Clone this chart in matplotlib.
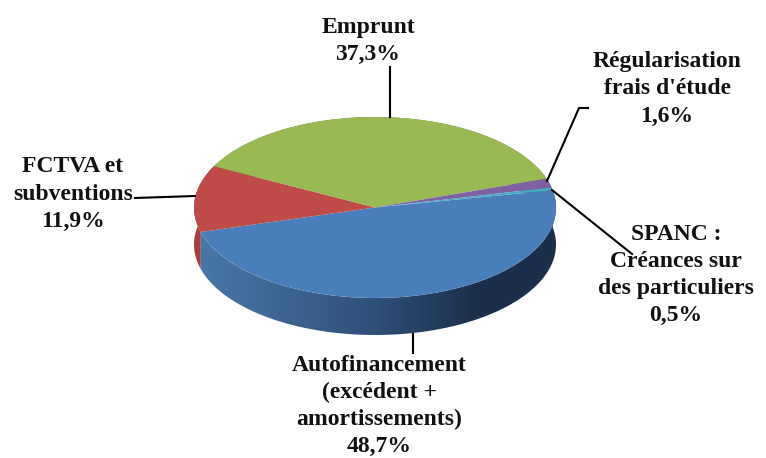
import numpy as np
import matplotlib
matplotlib.use("Agg")
import matplotlib.pyplot as plt
from matplotlib.patches import Polygon
from matplotlib.colors import LinearSegmentedColormap

# Data
labels = ["Autofinancement\n(excédent +\namortissements)\n48,7%",
          "FCTVA et\nsubventions\n11,9%",
          "Emprunt\n37,3%",
          "Régularisation\nfrais d'étude\n1,6%",
          "SPANC :\nCréances sur\ndes particuliers\n0,5%"]
values = [48.7, 11.9, 37.3, 1.6, 0.5]
colors = ["#4A7EBB", "#BE4B48", "#98B954", "#7F60A0", "#46AAC5"]
side_left = ["#4A78AA", "#A83F3C", "#7E9A45", "#66497F", "#35849A"]
side_mid = ["#2F5078", "#8E3330", "#6A8038", "#55406C", "#2C6C7E"]
side_right = ["#1B2F4A", "#7A2A28", "#5A6E30", "#45305A", "#245A68"]

W, H = 766, 458
# pie geometry in pixels
cx, cy, rx, ry, depth = 375, 207.5, 181, 90.5, 37

fig = plt.figure(figsize=(W/100, H/100), dpi=100)
ax = fig.add_axes([0, 0, 1, 1])
wedges, _ = ax.pie(values, colors=colors, startangle=11, counterclock=False,
                   wedgeprops={"linewidth": 0}, radius=1)
d = depth/ry

# side of the disc, blue goes last because it sits in front
xg = np.linspace(-1, 1, 256)[None, :]
for i in [2, 3, 4, 1, 0]:
    w = wedges[i]
    t = np.radians(np.linspace(w.theta1, w.theta2, 200))
    x = np.cos(t)
    y = np.sin(t)
    pts = np.r_[np.c_[x, y], np.c_[x[::-1], y[::-1]-d]]
    clip = Polygon(pts, transform=ax.transData, fc="none", ec="none")
    ax.add_patch(clip)
    cmap = LinearSegmentedColormap.from_list(
        "s", [(0, side_left[i]), (0.5, side_mid[i]), (0.78, side_right[i]), (1, side_right[i])])
    im = ax.imshow(xg, extent=(-1, 1, -1-d, 1), aspect="auto", cmap=cmap, zorder=1)
    im.set_clip_path(clip)
ax.set_aspect("auto")
ax.set_xlim(-cx/rx, (W-cx)/rx)
ax.set_ylim((cy-H)/ry, cy/ry)
for w in wedges:
    w.set_zorder(2)

# overlay in pixel coordinates for leader lines and labels
ov = fig.add_axes([0, 0, 1, 1], facecolor="none")
ov.set_xlim(0, W)
ov.set_ylim(H, 0)
ov.axis("off")
leaders = [([413, 413], [334, 353]),
           ([135, 195], [198, 196]),
           ([390, 390], [67, 117]),
           ([547, 579, 588], [181, 108, 108]),
           ([552, 632], [190, 254])]
for lx, ly in leaders:
    ov.plot(lx, ly, color="black", lw=1.5)

label_pos = [(379, 406), (73, 194), (368, 41), (667, 89), (676, 275)]
for s, (tx, ty) in zip(labels, label_pos):
    ov.text(tx, ty, s, ha="center", va="center", family="Liberation Serif",
            weight="bold", fontsize=17, linespacing=1.38, color="#111111", clip_on=False)

fig.savefig("out.png", dpi=100)
